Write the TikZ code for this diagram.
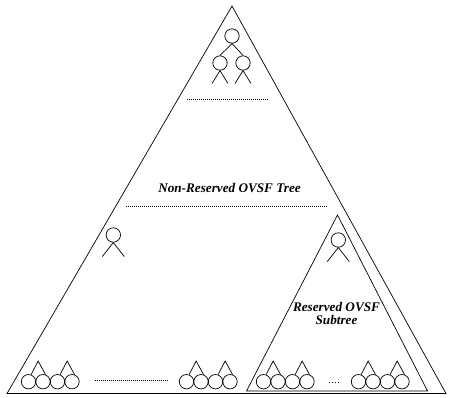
\documentclass[tikz,border=0pt]{standalone}
\usepackage{fontspec}
\setmainfont{Liberation Serif}
\usetikzlibrary{positioning}

\begin{document}
\begin{tikzpicture}[x=1pt, y=-1pt, line width=0.7pt,
    code/.style={circle, draw, minimum size=14.4pt, inner sep=0pt},
    lbl/.style={font=\fontsize{13.2}{13.6}\selectfont\bfseries\itshape, align=center},
    dots/.style={dash pattern=on 1pt off 1pt}]
  \useasboundingbox (0,0) rectangle (449,397);
  \def\cy{381.7}  \def\gap{14.5}

  % --- outer tree ---
  \coordinate (top) at (232,6);
  \coordinate (bl) at (7,393.5);
  \coordinate (br) at (446,393.5);
  \draw (top) -- (bl) -- (br) -- cycle;

  % --- reserved subtree ---
  \coordinate (stop) at (337.5,215);
  \coordinate (sbl) at (246.5,391);
  \coordinate (sbr) at (427.5,391);
  \draw (stop) -- (sbl) -- (sbr) -- cycle;

  % root with two children
  \node[code] (root) at (232,36) {};
  \node[code] (c1) at (220,63) {};
  \node[code] (c2) at (243,63) {};
  \draw (root.south) -- (c1.north);
  \draw (root.south) -- (c2.north);
  \foreach \c in {c1,c2} {
    \path (\c.south) ++(-8,13) coordinate (\c-l);
    \path (\c.south) ++(8,13) coordinate (\c-r);
    \draw (\c-l) -- (\c.south) -- (\c-r);
  }

  % single nodes
  \node[code] (mid) at (113.3,235) {};
  \node[code] (sroot) at (338.3,240) {};
  \foreach \c in {mid,sroot} {
    \path (\c.south) ++(-11,14) coordinate (\c-l);
    \path (\c.south) ++(11,14) coordinate (\c-r);
    \draw (\c-l) -- (\c.south) -- (\c-r);
  }

  % --- leaves ---
  \foreach \g/\gx in {a/28.5, b/186.5, c/263.5, d/358.5} {
    \foreach \i in {1,2,3,4} {
      \node[code] (\g\i) at ({\gx+\gap*(\i-1)},\cy) {};
    }
    \coordinate (\g p1) at ({\gx+\gap/2+2.4},361);
    \coordinate (\g p2) at ({\gx+2.5*\gap+2.4},361);
    \draw (\g1.70) -- (\g p1) -- (\g2.70);
    \draw (\g3.70) -- (\g p2) -- (\g4.70);
  }

  % dotted gaps
  \draw[dots] (187,99.5) -- (269,99.5);
  \draw[dots] (126,206) -- (327,206);
  \draw[dots] (94.5,380) -- (168.5,380);
  \draw[dash pattern=on 1pt off 2pt] (329,382) -- (340,382);

  % labels
  \node[lbl] (nrt) at (229.5,188) {Non-Reserved OVSF Tree};
  \node[lbl] (rst) at (336.5,313.5) {Reserved OVSF\\Subtree};
\end{tikzpicture}
\end{document}
